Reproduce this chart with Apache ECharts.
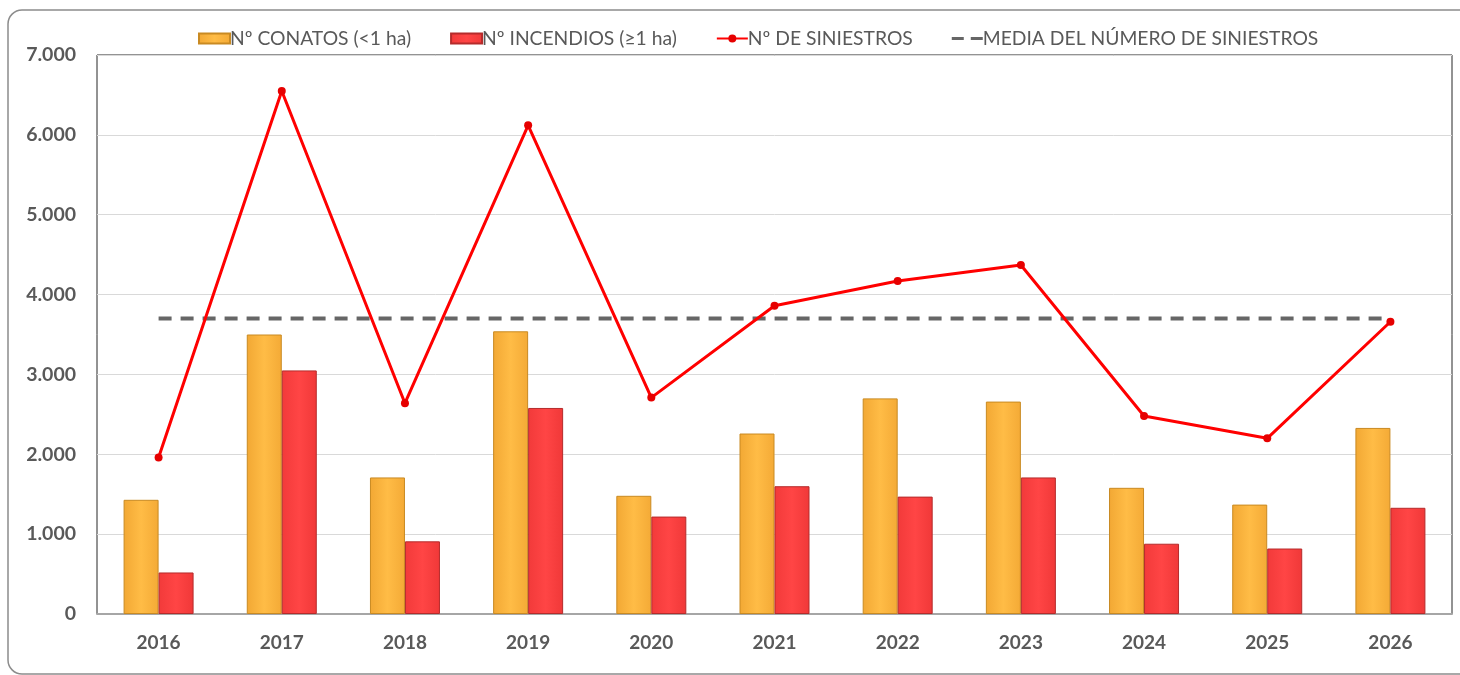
<!DOCTYPE html>
<html>
<head>
<meta charset="utf-8">
<script src="https://cdn.jsdelivr.net/npm/echarts@6/dist/echarts.min.js"></script>
<style>
  html, body { margin: 0; padding: 0; background: #fff; }
  #chart { width: 1460px; height: 675px; }
</style>
</head>
<body>
<div id="chart"></div>
<script>
var years = ['2016', '2017', '2018', '2019', '2020', '2021', '2022', '2023', '2024', '2025', '2026'];
var conatos = [1430, 3500, 1710, 3540, 1480, 2260, 2700, 2660, 1580, 1370, 2330];
var incendios = [520, 3050, 910, 2580, 1220, 1600, 1470, 1710, 880, 820, 1330];
var siniestros = [1960, 6550, 2640, 6120, 2710, 3860, 4170, 4370, 2480, 2200, 3660];
var media = [3700, 3700, 3700, 3700, 3700, 3700, 3700, 3700, 3700, 3700, 3700];

var nombres = ['Nº CONATOS (<1 ha)', 'Nº INCENDIOS (≥1 ha)', 'Nº DE SINIESTROS', 'MEDIA DEL NÚMERO DE SINIESTROS'];

// separador de miles con punto
function miles(v) {
    return String(v).replace(/\B(?=(\d{3})+(?!\d))/g, '.');
}

function barra(c1, c2, c3) {
    return new echarts.graphic.LinearGradient(0, 0, 1, 0, [
        { offset: 0, color: c1 },
        { offset: 0.5, color: c2 },
        { offset: 1, color: c3 }
    ]);
}

// icono de leyenda "– –" para la media
var iconoMedia = 'path://M0,0 L0.1,0 L0,0 Z M0,10 L0.1,10 L0,10 Z M0,3.5 H12 V6.5 H0 Z M19,3.5 H31 V6.5 H19 Z';

var myChart = echarts.init(document.getElementById('chart'));
var fuente = 'Lato, "Noto Sans", sans-serif';

var option = {
    animation: false,
    textStyle: { fontFamily: fuente },
    graphic: [{
        type: 'rect',
        silent: true,
        shape: { x: 8, y: 10, width: 1490, height: 664, r: 14 },
        style: { fill: 'none', stroke: '#8c8c8c', lineWidth: 1.5 }
    }],
    legend: {
        top: 24,
        left: 193,
        itemGap: 39,
        itemWidth: 31,
        itemHeight: 10,
        textStyle: { fontSize: 19.3, color: '#595959', fontFamily: fuente, padding: [0, 0, 0, -5] },
        data: [
            { name: nombres[0], icon: 'rect' },
            { name: nombres[1], icon: 'rect' },
            { name: nombres[2] },
            { name: nombres[3], icon: iconoMedia }
        ]
    },
    grid: {
        left: 97, right: 8, top: 55, bottom: 61,
        show: true,
        borderColor: '#262626',
        borderWidth: 1
    },
    xAxis: {
        type: 'category',
        data: years,
        axisLine: { lineStyle: { color: '#A6A6A6', width: 2 } },
        axisTick: { show: false },
        axisLabel: { fontSize: 19, fontWeight: 'bold', color: '#595959', margin: 19, fontFamily: fuente }
    },
    yAxis: {
        type: 'value',
        min: 0, max: 7000, interval: 1000,
        axisLine: { show: false },
        axisTick: { show: false },
        splitLine: { lineStyle: { color: '#D9D9D9', width: 1 } },
        axisLabel: { fontSize: 19.5, fontWeight: 'bold', color: '#595959', margin: 21, fontFamily: fuente,
            formatter: miles }
    },
    series: [
        {
            name: nombres[0],
            type: 'bar',
            data: conatos,
            barWidth: 35,
            barGap: '0%',
            itemStyle: {
                color: barra('#F2A834', '#FFBC46', '#F4AA36'),
                borderColor: '#C98A22',
                borderWidth: 1
            }
        },
        {
            name: nombres[1],
            type: 'bar',
            data: incendios,
            barWidth: 35,
            barGap: '0%',
            itemStyle: {
                color: barra('#F23A3A', '#FF4545', '#F03838'),
                borderColor: '#B52B2B',
                borderWidth: 1
            }
        },
        {
            name: nombres[2],
            type: 'line',
            data: siniestros,
            symbol: 'circle',
            symbolSize: 8,
            z: 5,
            lineStyle: { color: '#FF0000', width: 3 },
            itemStyle: { color: '#E60000' }
        },
        {
            name: nombres[3],
            type: 'line',
            data: media,
            symbol: 'none',
            z: 4,
            lineStyle: { color: '#666666', width: 4, type: [13, 9] },
            itemStyle: { color: '#666666' }
        }
    ]
};

myChart.setOption(option);
window.onresize = myChart.resize;
</script>
</body>
</html>
